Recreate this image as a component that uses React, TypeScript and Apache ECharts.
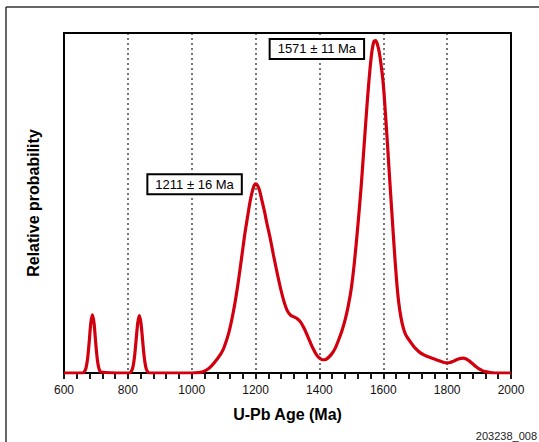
import React, { useEffect, useRef } from "react";
import * as echarts from "echarts";

const ages = [
  600, 650, 658, 664, 669, 674, 679, 684, 689, 694, 699, 704, 709, 716,
  790, 806, 811, 816, 821, 826, 831, 836, 841, 846, 851, 856, 861, 868,
  1000, 1020, 1035, 1050, 1062, 1075, 1089, 1100, 1116, 1130, 1143, 1155, 1165, 1175, 1183, 1190, 1196, 1201, 1207, 1213, 1220, 1228, 1235, 1245, 1256, 1267, 1278, 1290, 1300, 1310, 1320, 1330, 1340, 1350, 1360, 1370, 1380, 1390, 1400, 1410, 1420, 1430, 1440, 1450, 1460, 1470, 1480, 1490, 1500, 1510, 1520, 1530, 1540, 1550, 1558, 1565, 1571, 1576, 1582, 1588, 1594, 1600, 1607, 1614, 1620, 1627, 1634, 1641, 1648, 1655, 1662, 1670, 1680, 1690, 1700, 1715, 1730, 1745, 1760, 1775, 1790, 1800, 1810, 1820, 1835, 1850, 1860, 1870, 1880, 1890, 1900, 1910, 1920, 1935, 1950, 2000,
];
const probability = [
  0, 0, 0, 0.004, 0.015, 0.043, 0.092, 0.147, 0.171, 0.147, 0.092, 0.043, 0.015, 0.003, 0,
  0, 0.005, 0.018, 0.049, 0.098, 0.147, 0.169, 0.147, 0.098, 0.049, 0.018, 0.005, 0,
  0, 0.001, 0.004, 0.011, 0.021, 0.035, 0.053, 0.072, 0.118, 0.178, 0.25, 0.33, 0.40, 0.46, 0.505, 0.535, 0.552, 0.556, 0.550, 0.535, 0.507, 0.475, 0.442, 0.40, 0.347, 0.297, 0.25, 0.207, 0.182, 0.170, 0.165, 0.160, 0.151, 0.135, 0.115, 0.093, 0.072, 0.055, 0.044, 0.039, 0.040, 0.047, 0.058, 0.074, 0.097, 0.123, 0.155, 0.196, 0.25, 0.33, 0.43, 0.54, 0.67, 0.80, 0.89, 0.95, 0.976, 0.978, 0.965, 0.94, 0.90, 0.85, 0.76, 0.66, 0.57, 0.47, 0.37, 0.28, 0.21, 0.165, 0.135, 0.113, 0.098, 0.085, 0.073, 0.060, 0.052, 0.046, 0.041, 0.036, 0.031, 0.030, 0.031, 0.035, 0.041, 0.044, 0.041, 0.035, 0.027, 0.019, 0.012, 0.007, 0.004, 0.001, 0, 0,
];

const peakLabels = ["1571 ± 11 Ma", "1211 ± 16 Ma"];
const peakLabelAt = [
  [1392, 0.953],
  [1009, 0.555],
];

const xTicks = [600, 800, 1000, 1200, 1400, 1600, 1800, 2000];
const figureId = "203238_008";

const FONT = "'Liberation Sans', Arial, Helvetica, sans-serif";

export default function App() {
  const ref = useRef<HTMLDivElement>(null);
  useEffect(() => {
    if (!ref.current) return;
    const chart = echarts.init(ref.current, null, { renderer: "svg" });
    const n = Math.min(ages.length, probability.length);
    const data: number[][] = [];
    for (let i = 0; i < n; i++) data.push([ages[i], probability[i]]);
    const xMin = xTicks[0];
    const xMax = xTicks[xTicks.length - 1];

    chart.setOption({
      animation: false,
      backgroundColor: "#fff",
      textStyle: { fontFamily: FONT },
      grid: { left: 64, right: 28, top: 33, bottom: 69, show: false },
      xAxis: [
        {
          type: "value",
          min: xMin,
          max: xMax,
          interval: 200,
          position: "bottom",
          name: "U-Pb Age (Ma)",
          nameLocation: "middle",
          nameGap: 33,
          nameTextStyle: { fontSize: 16, fontWeight: "bold", color: "#000", fontFamily: FONT },
          axisLine: { show: true, onZero: false, lineStyle: { color: "#000", width: 2 } },
          axisTick: { show: true, length: 6, lineStyle: { color: "#1a1a1a", width: 2 } },
          minorTick: { show: true, splitNumber: 5, length: 6, lineStyle: { color: "#1a1a1a", width: 2 } },
          axisLabel: {
            fontSize: 12,
            color: "#111",
            margin: 11,
            fontFamily: FONT,
            formatter: (v: number) => String(v),
          },
          splitLine: {
            show: true,
            showMinLine: false,
            showMaxLine: false,
            lineStyle: { color: "#777", type: [2, 3], width: 2 },
          },
        },
        {
          type: "value",
          min: xMin,
          max: xMax,
          interval: 200,
          position: "top",
          axisLine: { show: true, onZero: false, lineStyle: { color: "#000", width: 2 } },
          axisTick: { show: false },
          axisLabel: { show: false },
          splitLine: { show: false },
        },
      ],
      yAxis: [
        {
          type: "value",
          min: 0,
          max: 1,
          position: "left",
          name: "Relative probability",
          nameLocation: "middle",
          nameGap: 23,
          nameTextStyle: { fontSize: 16, fontWeight: "bold", color: "#000", fontFamily: FONT },
          axisLine: { show: true, onZero: false, lineStyle: { color: "#000", width: 2 } },
          axisTick: { show: false },
          axisLabel: { show: false },
          splitLine: { show: false },
        },
        {
          type: "value",
          min: 0,
          max: 1,
          position: "right",
          axisLine: { show: true, onZero: false, lineStyle: { color: "#000", width: 2 } },
          axisTick: { show: false },
          axisLabel: { show: false },
          splitLine: { show: false },
        },
      ],
      graphic: [
        {
          type: "line",
          silent: true,
          shape: { x1: 6, y1: 7, x2: 6, y2: 442 },
          style: { stroke: "#333", lineWidth: 1.5 },
        },
        {
          type: "line",
          silent: true,
          shape: { x1: 6, y1: 7, x2: 539, y2: 7 },
          style: { stroke: "#333", lineWidth: 1.5 },
        },
        {
          type: "text",
          right: 2,
          bottom: 1,
          style: { text: figureId, fontSize: 11, fill: "#222", fontFamily: FONT },
        },
      ],
      series: [
        {
          type: "line",
          xAxisIndex: 0,
          yAxisIndex: 0,
          data,
          smooth: 0.3,
          showSymbol: false,
          symbol: "none",
          z: 3,
          lineStyle: { color: "#d2000f", width: 3.2 },
          markPoint: {
            symbol: "rect",
            symbolSize: 0,
            data: peakLabels.map((t, i) => ({
              coord: peakLabelAt[i],
              value: t,
              label: {
                show: true,
                position: "inside",
                formatter: t,
                fontSize: 13,
                color: "#000",
                fontFamily: FONT,
                backgroundColor: "#fff",
                borderColor: "#000",
                borderWidth: 2,
                padding: [3, 7, 2, 7],
              },
            })),
          },
        },
      ],
    });
    return () => chart.dispose();
  }, []);
  return (
    <div
      ref={ref}
      style={{ position: "fixed", left: 0, top: 0, width: 539, height: 442 }}
    />
  );
}
